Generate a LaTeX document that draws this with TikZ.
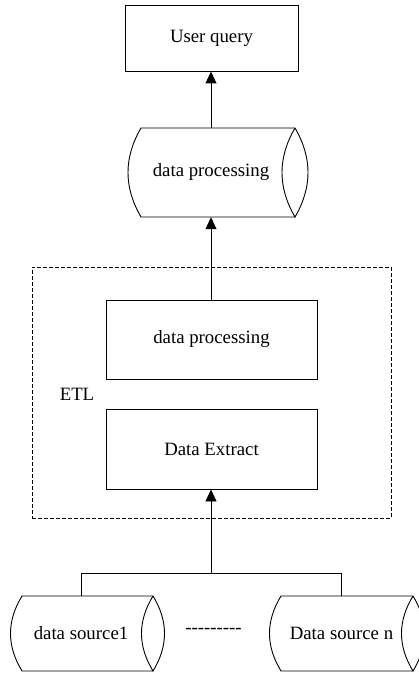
\documentclass[tikz,border=0pt]{standalone}
\usepackage{fontspec}
\setmainfont{Liberation Serif}
\newfontfamily\plainserif{Liberation Serif}
\usetikzlibrary{arrows.meta,calc}

% Horizontal drum (cylinder) outline: left x, right-end centre x, top y, bottom y, bulge
\newcommand\drumoutline[5]{%
  \pgfmathsetmacro\drumdx{#5/0.75}%
  \pgfmathsetmacro\drumdy{(#4-#3)/3}%
  \draw[line] (#2,#3) -- (#1,#3)
    .. controls ({#1-\drumdx},{#3+\drumdy}) and ({#1-\drumdx},{#4-\drumdy}) .. (#1,#4)
    -- (#2,#4);
  \draw[line] (#2,#3)
    .. controls ({#2-\drumdx},{#3+\drumdy}) and ({#2-\drumdx},{#4-\drumdy}) .. (#2,#4)
    .. controls ({#2+\drumdx},{#4-\drumdy}) and ({#2+\drumdx},{#3+\drumdy}) .. (#2,#3);
}

\tikzset{
  line/.style={draw=black, line width=0.9pt},
  box/.style={line, rectangle, inner sep=0pt, align=center},
  label/.style={inner sep=0pt, font=\fontsize{18.8}{22}\selectfont},
  arr/.style={line, -{Triangle[length=12pt,width=11pt]}},
  etlframe/.style={draw=black, line width=0.9pt, dash pattern=on 4pt off 2pt, inner sep=0pt},
}

\begin{document}
\begin{tikzpicture}[x=1pt, y=-1pt, font=\fontsize{18.8}{22}\selectfont]
\useasboundingbox (0,0) rectangle (419,674);
\clip (0,0) rectangle (419,674);

% top: user query
\node[box, minimum width=173pt, minimum height=66pt] (uq) at (211.5,38) {User query};

% processed data store
\node[label, minimum height=89pt] (store) at (211,172.5) {data processing};
\drumoutline{141}{295}{128}{217}{13}

% ETL stage
\node[etlframe, minimum width=359pt, minimum height=251pt] (etl) at (211.5,392.5) {};
\node[label] (etltext) at (77,394) {ETL};
\node[box, minimum width=211pt, minimum height=79pt] (proc) at (211.5,339.5) {data processing};
\node[box, minimum width=211pt, minimum height=80pt] (extract) at (211.5,449) {Data Extract};

% data sources
\node[label, minimum height=75pt] (src1) at (81,633.5) {data source1};
\drumoutline{22}{153}{596}{671}{11.5}
\node[label, minimum height=75pt] (srcn) at (341.5,633.5) {Data source n};
\drumoutline{281}{413}{596}{671}{11.5}
\node[inner sep=0pt, anchor=base, font={\plainserif\fontsize{18.8}{22}\selectfont}] (more) at (213.5,633.5) {---------};

% connectors
\coordinate (join) at (211,573);
\draw[line] (src1.north) -- (src1.north |- join) -- (srcn.north |- join) -- (srcn.north);
\draw[arr] (join) -- (extract.south -| join);
\draw[arr] (proc.north -| store.south) -- (store.south);
\draw[arr] (store.north) -- (uq.south -| store.north);
\end{tikzpicture}
\end{document}
